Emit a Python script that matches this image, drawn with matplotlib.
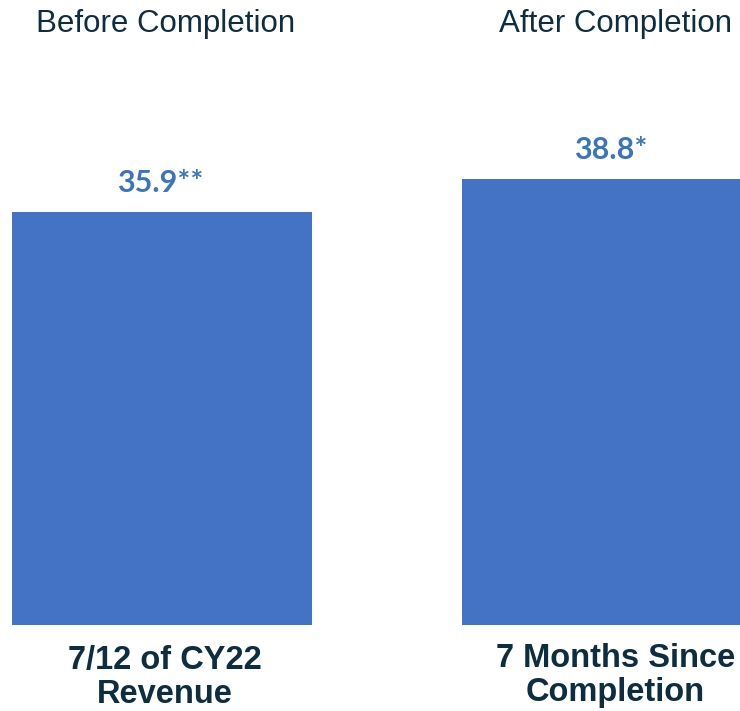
import matplotlib
matplotlib.use("Agg")
import matplotlib.pyplot as plt

# chart values
categories = ["7/12 of CY22\nRevenue", "7 Months Since\nCompletion"]
headers = ["Before Completion", "After Completion"]
values = [35.9, 38.8]
value_labels = ["35.9**", "38.8*"]

bar_color = "#4472C4"
value_color = "#3B74BE"
dark = "#0D2E40"

PX = 11.5  # pixels per value unit

fig = plt.figure(figsize=(7.4, 7.11), dpi=100)
# axes: bottom edge is the bar baseline
ax = fig.add_axes([0, 86 / 711, 1, 625 / 711])
ax.set_xlim(-162 / 450, (740 - 162) / 450)
ax.set_ylim(0, 625 / PX)
ax.axis("off")

x = [0, 1]
ax.bar(x, values, width=300 / 450, color=bar_color)

for xi, v, lab in zip(x, values, value_labels):
    ax.text(xi - 0.003, v + 20 / PX, lab, ha="center", va="baseline", fontsize=22,
            fontweight="bold", color=value_color, family="Lato")

# category labels under the bars, one line at a time
cat_base = [669, 667]
for xi, cat, b in zip(x, categories, cat_base):
    for k, line in enumerate(cat.split("\n")):
        ax.text(xi + 0.007, -(b - 625 + 34 * k) / PX, line, ha="center",
                va="baseline", fontsize=23.5, fontweight="bold", color=dark,
                family="Liberation Sans", clip_on=False)

for xi, h in zip(x, headers):
    ax.text(xi + 0.008, (625 - 32) / PX, h, ha="center", va="baseline",
            fontsize=22.5, color=dark, family="Liberation Sans")

fig.savefig("out.png", dpi=100)
